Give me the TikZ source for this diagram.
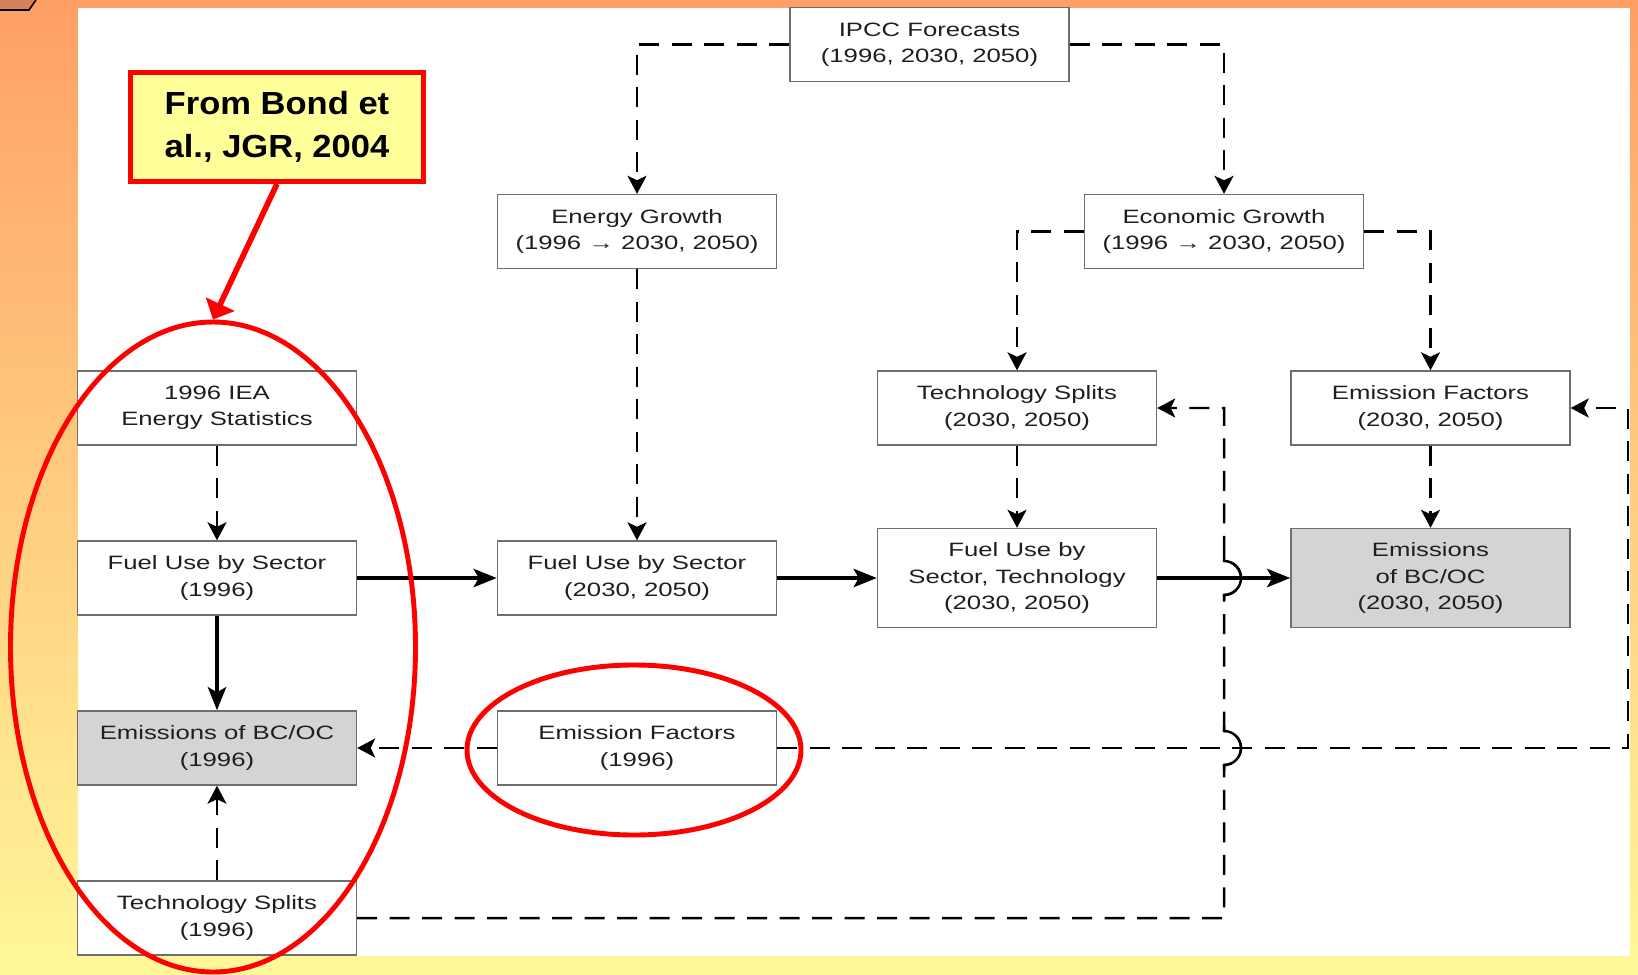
\documentclass[tikz,border=0pt]{standalone}
\usepackage{fontspec}
\setmainfont{Liberation Sans}[FakeStretch=1.33]
\newfontfamily\notefont{Liberation Sans}[FakeStretch=1.08]
\usepackage{tikz}
\usetikzlibrary{shapes.geometric,arrows.meta}
\definecolor{slidetop}{RGB}{255,160,102}
\definecolor{slidebot}{RGB}{255,248,153}
\definecolor{notefill}{RGB}{255,255,153}
\definecolor{boxline}{RGB}{110,110,110}
\definecolor{tabfill}{RGB}{212,130,92}
\tikzstyle{block} = [rectangle, draw=boxline, line width=0.8pt, fill=white, align=center,
                     minimum height=14.8mm, minimum width=55.8mm, text=black!88,
                     font=\fontsize{11}{15}\selectfont]
\tikzstyle{tall} = [minimum height=19.8mm]
\tikzstyle{result} = [fill=black!17]
\tikzstyle{arrow} = [-{Stealth[length=4.6mm,width=3.6mm,inset=1mm]}, line width=2.6pt]
\tikzstyle{darrow} = [-{Stealth[length=3.6mm,width=3.8mm,inset=0.9mm]}, line width=1.4pt,
                      dash pattern=on 4mm off 2.5mm]
\tikzstyle{hop} = [line width=1.4pt]
\tikzstyle{ring} = [ellipse, draw=red, line width=2.8pt, inner sep=0pt]
\tikzstyle{note} = [rectangle, draw=red, line width=3pt, fill=notefill, align=center,
                    minimum width=58.6mm, minimum height=21.7mm,
                    font=\notefont\bfseries\fontsize{18.2}{24.2}\selectfont]

\begin{document}
\begin{tikzpicture}[x=0.2mm, y=-0.2mm, node distance=34mm]
    \useasboundingbox (0,0) rectangle (1638,975);
    % slide background
    \shade [top color=slidetop, bottom color=slidebot] (0,0) rectangle (1638,975);
    \fill [white] (78,7.5) rectangle (1630,956);
    \fill [tabfill] (0,0) -- (36,0) -- (29,10) -- (0,10) -- cycle;
    \draw [line width=0.9pt] (0,10) -- (29,10) -- (36,0);

    \node [block] (iea) at (217,408) {1996 IEA\\Energy Statistics};
    \node [block, below of=iea] (fu96) {Fuel Use by Sector\\(1996)};
    \node [block, result, below of=fu96] (em96) {Emissions of BC/OC\\(1996)};
    \node [block, below of=em96] (ts96) {Technology Splits\\(1996)};
    \node [block, right of=fu96, xshift=50mm] (fu30) {Fuel Use by Sector\\(2030, 2050)};
    \node [block, right of=em96, xshift=50mm] (ef96) {Emission Factors\\(1996)};
    \node [block, above of=fu30, yshift=35.3mm] (engr) {Energy Growth\\(1996 → 2030, 2050)};
    \node [block, tall, right of=fu30, xshift=42mm] (fut) {Fuel Use by\\Sector, Technology\\(2030, 2050)};
    \node [block, above of=fut] (tsf) {Technology Splits\\(2030, 2050)};
    \node [block, tall, result, right of=fut, xshift=48.7mm] (emf) {Emissions\\of BC/OC\\(2030, 2050)};
    \node [block, above of=emf] (eff) {Emission Factors\\(2030, 2050)};
    \node [block, right of=engr, xshift=83.4mm] (ecgr) {Economic Growth\\(1996 → 2030, 2050)};
    \node [block, above of=engr, xshift=58.5mm, yshift=3.4mm] (ipcc) {IPCC Forecasts\\(1996, 2030, 2050)};

    \draw [darrow] (ipcc.west) -| (engr.north);
    \draw [darrow] (ipcc.east) -| (ecgr.north);
    \draw [darrow] (ecgr.west) -| (tsf.north);
    \draw [darrow] (ecgr.east) -| (eff.north);
    \draw [darrow] (engr) -- (fu30);
    \draw [darrow] (iea) -- (fu96);
    \draw [darrow] (tsf) -- (fut);
    \draw [darrow] (eff) -- (emf);
    \draw [darrow] (ts96) -- (em96);
    \draw [darrow] (ef96) -- (em96);
    \draw [arrow] (fu96) -- (fu30);
    \draw [arrow] (fu30) -- (fut);
    \draw [arrow] (fut) -- (emf);
    \draw [arrow] (fu96) -- (em96);

    % feedback to 2030/2050 boxes
    \coordinate (rim) at (1628,0);
    \coordinate (hopA) at (ef96.east -| ecgr);
    \coordinate (hopB) at (fut.east -| ecgr);
    \draw [darrow] (ef96.east) -- (ef96.east -| rim) -- (eff.east -| rim) -- (eff.east);
    \draw [darrow] (ts96.east) -| ([yshift=-3.4mm]hopA)
        arc [start angle=-90, end angle=90, radius=3.4mm]
        -- ([yshift=-3.4mm]hopB) arc [start angle=-90, end angle=90, radius=3.4mm]
        -- (tsf.east -| ecgr) -- (tsf.east);
    \draw [hop] ([yshift=-4.4mm]hopA) -- ([yshift=-3.4mm]hopA)
        arc [start angle=-90, end angle=90, radius=3.4mm] -- ++(0,-5);
    \draw [hop] ([yshift=-4.4mm]hopB) -- ([yshift=-3.4mm]hopB)
        arc [start angle=-90, end angle=90, radius=3.4mm] -- ++(0,-5);

    % red markup
    \node [ring, minimum width=81mm, minimum height=130mm] (bigring) at (213,647) {};
    \node [ring, minimum width=66.8mm, minimum height=34mm] (smallring) at (634,750) {};
    \node [note] (src) at (277,127) {From Bond et\\al., JGR, 2004};
    \draw [red, line width=3.2pt, -{Triangle[length=3.4mm,width=6.2mm]}] (src.south) -- (bigring.north);
\end{tikzpicture}
\end{document}
